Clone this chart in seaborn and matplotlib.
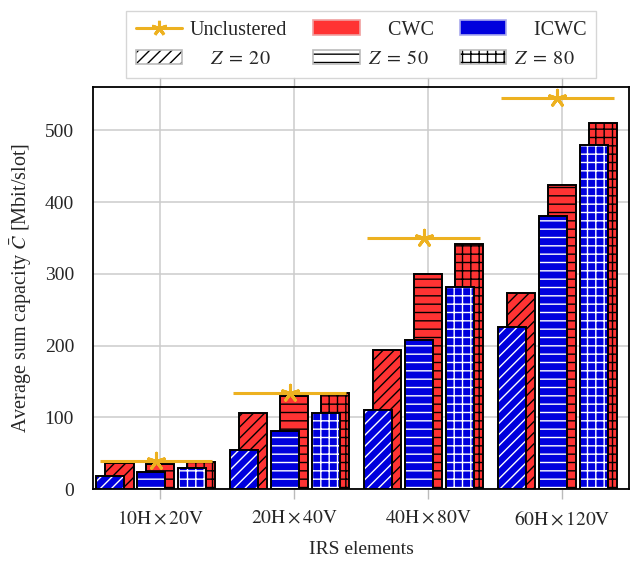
import numpy as np
import pandas as pd
import matplotlib
matplotlib.use("Agg")
import matplotlib.pyplot as plt
import matplotlib.colors as mcolors
from matplotlib.patches import Patch
from matplotlib.lines import Line2D
import seaborn as sns

# ---- data -------------------------------------------------------------
groups = [r"$10\mathrm{H}\times20\mathrm{V}$", r"$20\mathrm{H}\times40\mathrm{V}$",
          r"$40\mathrm{H}\times80\mathrm{V}$", r"$60\mathrm{H}\times120\mathrm{V}$"]
z_values = [20, 50, 80]
cwc_z20 = [36, 106, 194, 274]
cwc_z50 = [35, 130, 300, 424]
cwc_z80 = [38, 134, 341, 511]
icwc_z20 = [18, 54, 110, 226]
icwc_z50 = [24, 81, 208, 381]
icwc_z80 = [30, 106, 281, 480]
unclustered = [39, 134, 350, 545]
y_ticks = [0, 100, 200, 300, 400, 500]

# ---- style ------------------------------------------------------------
sns.set_style("whitegrid")
plt.rcParams["font.family"] = ["Liberation Serif", "DejaVu Serif"]
plt.rcParams["mathtext.fontset"] = "stix"
plt.rcParams["hatch.linewidth"] = 1.0
FS = 14
LFS = 14.5

RED = "#ff3333"
BLUE = "#0000dd"
GOLD = "#edb120"
GRID = "#cccccc"
HATCH = {20: "///", 50: "--", 80: "++"}

bar_w = 0.21
z_step = 0.306
blue_shift = -0.07


def set_hatch_color(p, c):
    if hasattr(p, "set_hatchcolor"):
        p.set_hatchcolor(c)
    else:
        p._hatch_color = mcolors.to_rgba(c)


fig, ax = plt.subplots(figsize=(6.33, 5.61), dpi=100)
fig.subplots_adjust(left=0.1477, right=0.9937, bottom=0.1283, top=0.8455)

x_idx = np.arange(len(groups), dtype=float)
series = [
    ("CWC", RED, "black", 0.0, {20: cwc_z20, 50: cwc_z50, 80: cwc_z80}),
    ("ICWC", BLUE, "white", blue_shift, {20: icwc_z20, 50: icwc_z50, 80: icwc_z80}),
]

for name, face, hcol, shift, vals in series:
    for k, z in enumerate(z_values):
        pos = x_idx + (k - 1) * z_step + shift
        df = pd.DataFrame({"pos": pos, "capacity": vals[z]})
        n0 = len(ax.patches)
        sns.barplot(data=df, x="pos", y="capacity", native_scale=True,
                    width=bar_w, color=face, errorbar=None, ax=ax,
                    saturation=1, zorder=3)
        for p in ax.patches[n0:]:
            p.set_facecolor(face)
            p.set_edgecolor("black")
            p.set_linewidth(1.4)
            p.set_hatch(HATCH[z])
            set_hatch_color(p, hcol)
            p.set_zorder(3)

# unclustered reference: horizontal segment with a star at its centre
seg_half = 0.42
seg_c = x_idx - 0.035
ax.hlines(unclustered, seg_c - seg_half, seg_c + seg_half, color=GOLD,
          linewidth=2.2, zorder=5)
sns.scatterplot(x=seg_c, y=unclustered, marker=(5, 2, 0), s=140,
                color=GOLD, edgecolor=GOLD, linewidth=2.2, ax=ax, zorder=6)

# ---- axes -------------------------------------------------------------
ax.set_xlim(-0.5, 3.5)
ax.set_ylim(0, 561)
ax.set_xticks(x_idx)
ax.set_xticklabels(groups, fontsize=FS)
ax.set_yticks(y_ticks)
ax.set_yticklabels([str(t) for t in y_ticks], fontsize=FS)
ax.set_xlabel("IRS elements", fontsize=FS, labelpad=9)
ax.set_ylabel(r"Average sum capacity $\bar{C}$ [Mbit/slot]", fontsize=14.5,
              labelpad=8)
ax.set_axisbelow(True)
ax.grid(True, color=GRID, linewidth=1.1)
for s in ax.spines.values():
    s.set_color("black")
    s.set_linewidth(1.3)
ax.tick_params(axis="x", which="both", direction="out", length=7,
               color="#bbbbbb", width=1.0, top=True, bottom=True, pad=8)
ax.tick_params(axis="y", length=0, pad=14)

# ---- legend -----------------------------------------------------------
h_unc = Line2D([0], [0], color=GOLD, linewidth=2.2, marker=(5, 2, 0),
               markersize=11, markeredgewidth=2.2, markeredgecolor=GOLD)
h_cwc = Patch(facecolor=RED, edgecolor="#f0a0a0", linewidth=1.2)
h_icwc = Patch(facecolor=BLUE, edgecolor="#aaaaee", linewidth=1.2)
h_z = []
for z in z_values:
    p = Patch(facecolor="white", edgecolor="#bbbbbb", linewidth=1.2,
              hatch=HATCH[z])
    set_hatch_color(p, "black")
    h_z.append(p)

handles = [h_unc, h_z[0], h_cwc, h_z[1], h_icwc, h_z[2]]
labels = ["Unclustered", r"    $Z\;=\;20$", "    CWC", r"$Z\;=\;50$",
          "    ICWC", r"$Z\;=\;80$"]
leg = ax.legend(handles, labels, ncol=3, loc="lower center",
                bbox_to_anchor=(0.5, 1.022), borderaxespad=0, fontsize=LFS,
                frameon=True, fancybox=False, edgecolor="#cccccc",
                handlelength=2.3, handleheight=0.7, columnspacing=1.3,
                borderpad=0.45, labelspacing=0.5, handletextpad=0.4)
leg.get_frame().set_linewidth(1.0)

fig.savefig("out.png", dpi=100)
